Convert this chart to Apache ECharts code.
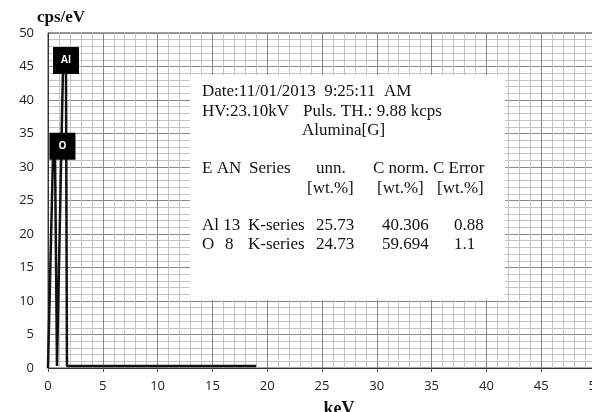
<!DOCTYPE html>
<html>
<head>
<meta charset="utf-8">
<script src="https://cdn.jsdelivr.net/npm/echarts@6/dist/echarts.min.js"></script>
<style>html,body{margin:0;padding:0;background:#fff}#c{width:592px;height:412px}</style>
</head>
<body>
<div id="c"></div>
<script>
// Spectrum (keV, cps/eV)
const energy = [0, 0.03, 0.46, 0.55, 0.64, 0.82, 1.0, 1.37, 1.49, 1.64, 1.73, 19.0];
const counts = [0, 2.2, 32, 34, 32, 0.3, 0.3, 45, 46, 45, 0.3, 0.3];
// Peak label boxes
const peakNames = ['Al', 'O'];
const peakLabelX = [1.64, 1.32];
const peakLabelY = [45.9, 33.1];
// Axis ticks
const xTicks = [0, 5, 10, 15, 20, 25, 30, 35, 40, 45, 50];
const yTicks = [0, 5, 10, 15, 20, 25, 30, 35, 40, 45, 50];
// Info box text
const infoLines = [
  ['Date:11/01/2013  9:25:11  AM'],
  ['HV:23.10kV', 'Puls. TH.: 9.88 kcps'],
  ['', 'Alumina[G]']
];
const tableHeader1 = ['E AN', 'Series', 'unn.', 'C norm. C Error'];
const tableHeader2 = ['[wt.%]', '[wt.%]', '[wt.%]'];
const elemSymbol = ['Al', 'O'];
const elemAN = ['13', '8'];
const elemSeries = ['K-series', 'K-series'];
const unnWt = ['25.73', '24.73'];
const cNorm = ['40.306', '59.694'];
const cError = ['0.88', '1.1'];

const chart = echarts.init(document.getElementById('c'), null, {renderer: 'canvas'});
const serif = 'Liberation Serif';
const sans = 'Open Sans';
const fs = 17;

function txt(x, y, s) {
  return {type: 'text', x: x, y: y, z: 100,
    style: {text: s, font: fs + 'px "' + serif + '"', fill: '#111', textVerticalAlign: 'middle'}};
}
const g = [{type: 'rect', shape: {x: 190, y: 75, width: 315, height: 225}, style: {fill: '#fff'}, z: 99}];
g.push(txt(202, 92, infoLines[0][0]));
g.push(txt(202, 112, infoLines[1][0]));
g.push(txt(303, 112, infoLines[1][1]));
g.push(txt(302, 131, infoLines[2][1]));
g.push(txt(202, 169, tableHeader1[0]));
g.push(txt(249, 169, tableHeader1[1]));
g.push(txt(316, 169, tableHeader1[2]));
g.push(txt(373, 169, tableHeader1[3]));
g.push(txt(307, 189, tableHeader2[0]));
g.push(txt(377, 189, tableHeader2[1]));
g.push(txt(437, 189, tableHeader2[2]));
const rowY = [226, 245];
for (let i = 0; i < 2; i++) {
  if (i === 0) g.push(txt(202, rowY[i], elemSymbol[i] + ' ' + elemAN[i]));
  else { g.push(txt(202, rowY[i], elemSymbol[i])); g.push(txt(225, rowY[i], elemAN[i])); }
  g.push(txt(248, rowY[i], elemSeries[i]));
  g.push(txt(316, rowY[i], unnWt[i]));
  g.push(txt(382, rowY[i], cNorm[i]));
  g.push(txt(454, rowY[i], cError[i]));
}

chart.setOption({
  animation: false,
  backgroundColor: '#fff',
  grid: {left: 48, right: -4, top: 33, bottom: 44, outerBoundsMode: 'none', containLabel: false,
    show: true, borderColor: '#444', borderWidth: 1},
  xAxis: {
    type: 'value', min: xTicks[0], max: xTicks[xTicks.length - 1], interval: 5,
    name: 'keV', nameLocation: 'middle', nameGap: 32,
    nameTextStyle: {fontFamily: serif, fontWeight: 'bold', fontSize: 18, color: '#111', padding: [0, 0, 0, 34]},
    axisLine: {lineStyle: {color: '#333', width: 1}},
    axisTick: {show: true, length: 4, lineStyle: {color: '#555'}},
    axisLabel: {fontFamily: sans, fontSize: 13, color: '#222', margin: 12},
    splitLine: {show: true, lineStyle: {color: '#888', width: 1}},
    minorTick: {show: false, splitNumber: 5},
    minorSplitLine: {show: true, lineStyle: {color: '#c4c4c4', width: 1}}
  },
  yAxis: {
    type: 'value', min: yTicks[0], max: yTicks[yTicks.length - 1], interval: 5,
    name: 'cps/eV', nameLocation: 'end', nameGap: 6,
    nameTextStyle: {fontFamily: serif, fontWeight: 'bold', fontSize: 17, color: '#111', align: 'center', padding: [0, 0, 0, 26]},
    axisLine: {show: true, lineStyle: {color: '#333', width: 1}},
    axisTick: {show: false},
    axisLabel: {fontFamily: sans, fontSize: 13, color: '#222', margin: 14},
    splitLine: {show: true, lineStyle: {color: '#888', width: 1}},
    minorTick: {show: false, splitNumber: 5},
    minorSplitLine: {show: true, lineStyle: {color: '#c4c4c4', width: 1}}
  },
  series: [{
    type: 'line',
    data: energy.map((e, i) => [e, counts[i]]),
    showSymbol: false,
    lineStyle: {color: '#111', width: 2.5},
    markPoint: {
      symbol: 'rect', symbolSize: [26, 27],
      itemStyle: {color: '#000'},
      label: {show: true, color: '#fff', fontFamily: sans, fontWeight: 'bold', fontSize: 10, formatter: p => p.name},
      data: peakNames.map((n, i) => ({name: n, coord: [peakLabelX[i], peakLabelY[i]]}))
    }
  }],
  graphic: g
});
</script>
</body>
</html>
